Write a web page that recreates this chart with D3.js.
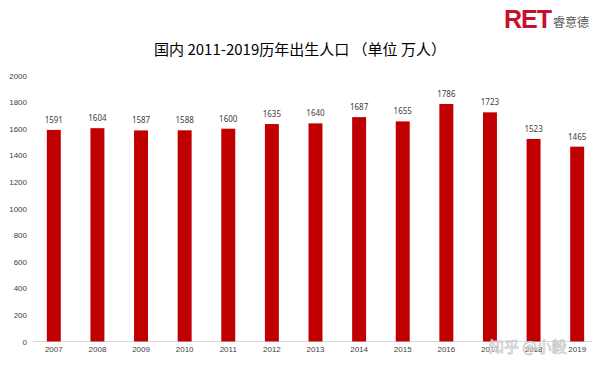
<!DOCTYPE html>
<html>
<head>
<meta charset="utf-8">
<script src="https://cdn.jsdelivr.net/npm/d3@7"></script>
<style>
  body { margin: 0; background: #fff; }
  svg { display: block; font-family: "Noto Sans", "Noto Sans CJK SC", sans-serif; }
</style>
</head>
<body>
<div class="chart"></div>
<script>
const years = ['2007', '2008', '2009', '2010', '2011', '2012', '2013', '2014', '2015', '2016', '2017', '2018', '2019']
const births = [1591, 1604, 1587, 1588, 1600, 1635, 1640, 1687, 1655, 1786, 1723, 1523, 1465]
const yTicks = [0, 200, 400, 600, 800, 1000, 1200, 1400, 1600, 1800, 2000]

const width = 600, height = 372
const data = years.map((y, i) => ({ year: y, value: births[i] }))

const svg = d3.select('.chart').append('svg')
    .attr('width', width)
    .attr('height', height)

const x = d3.scaleBand()
    .domain(years)
    .range([32, 599])
    .paddingInner(0.68)
    .paddingOuter(0.34)

const y = d3.scaleLinear()
    .domain([0, 2000])
    .range([341.5, 75.5])

// baseline
svg.append('line')
    .attr('x1', 33).attr('x2', 592)
    .attr('y1', y(0)).attr('y2', y(0))
    .attr('stroke', '#d9d9d9')
    .attr('stroke-width', 1)

// y axis (labels only)
const yAxis = svg.append('g')
    .attr('transform', 'translate(27,0)')
    .call(d3.axisLeft(y).tickValues(yTicks).tickFormat(d3.format('d')).tickSize(0).tickPadding(0))
yAxis.select('.domain').remove()
yAxis.selectAll('text')
    .attr('fill', '#404040')
    .style('font-size', '8px')

// x axis labels
const xAxis = svg.append('g')
    .attr('transform', 'translate(0,' + (y(0) + 5) + ')')
    .call(d3.axisBottom(x).tickSize(0).tickPadding(0))
xAxis.select('.domain').remove()
xAxis.selectAll('text')
    .attr('fill', '#404040')
    .style('font-size', '8px')

svg.selectAll('.bar')
    .data(data)
    .enter().append('rect')
    .attr('class', 'bar')
    .attr('x', d => x(d.year))
    .attr('width', x.bandwidth())
    .attr('y', d => y(d.value))
    .attr('height', d => y(0) - y(d.value))
    .attr('fill', '#c00000')

svg.selectAll('.label')
    .data(data)
    .enter().append('text')
    .attr('class', 'label')
    .attr('x', d => x(d.year) + x.bandwidth() / 2)
    .attr('y', d => y(d.value) - 7)
    .attr('text-anchor', 'middle')
    .attr('fill', '#404040')
    .style('font-size', '8px')
    .text(d => d.value)

// title
svg.append('text')
    .attr('x', 300)
    .attr('y', 55)
    .attr('text-anchor', 'middle')
    .attr('fill', '#000')
    .style('font-family', '"Noto Sans CJK SC", sans-serif')
    .style('font-size', '15px')
    .text('国内 2011-2019历年出生人口 （单位 万人）')

// logo
svg.append('text')
    .attr('x', 504)
    .attr('y', 28)
    .attr('fill', '#c8102e')
    .style('font-family', '"Liberation Sans", Arial, sans-serif')
    .style('font-weight', 'bold')
    .style('font-size', '25px')
    .style('letter-spacing', '-1px')
    .text('RET')
svg.append('text')
    .attr('x', 553)
    .attr('y', 27)
    .attr('fill', '#555')
    .style('font-family', '"Noto Sans CJK SC", sans-serif')
    .style('font-size', '12px')
    .text('睿意德')

// watermark
svg.append('text')
    .attr('x', 489)
    .attr('y', 352)
    .attr('fill', '#ffffff')
    .attr('stroke', '#c8c8c8')
    .attr('stroke-width', 0.8)
    .attr('opacity', 0.9)
    .style('font-family', '"Noto Sans CJK SC", sans-serif')
    .style('font-size', '15px')
    .text('知乎 @小毅')
</script>
</body>
</html>
